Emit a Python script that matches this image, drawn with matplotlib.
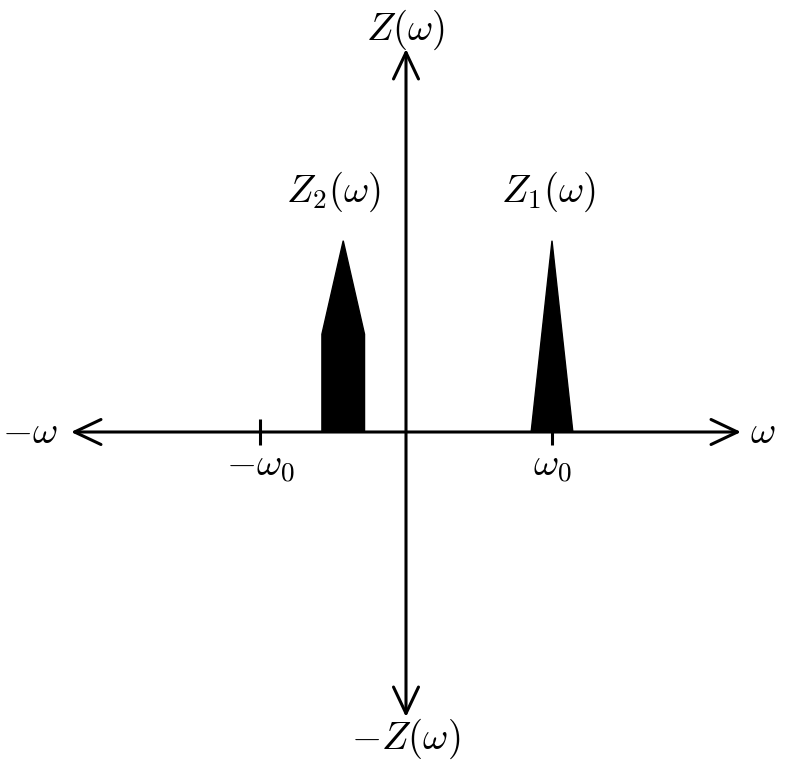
import numpy as np
import matplotlib.pyplot as plt
from matplotlib.patches import Polygon

plt.rcParams['mathtext.fontset'] = 'cm'

# everything in units of omega_0
w0 = 1.0
z1_center = 1.0
z1_halfwidth = 0.143
z1_peak = 1.31
z2_center = -0.43
z2_halfwidth = 0.146
z2_shoulder = 0.67
z2_peak = 1.31
tick_pos = [-w0, w0]
tick_labels = [r'$-\omega_0$', r'$\omega_0$']

# pixel layout -> data limits (origin at 406,432 px, w0 = 146 px)
W, H = 789, 761
ox, oy, unit = 406, 432, 146.0

fig = plt.figure(figsize=(W / 100, H / 100), dpi=100)
ax = fig.add_axes([0, 0, 1, 1])
ax.set_xlim(-ox / unit, (W - ox) / unit)
ax.set_ylim(-(H - oy) / unit, oy / unit)
ax.axis('off')

arrow = dict(arrowstyle='<->,head_length=0.95,head_width=0.45', lw=2.2,
             color='black', shrinkA=0, shrinkB=0, mutation_scale=20)
ax.annotate('', xy=((741 - ox) / unit, 0), xytext=((71 - ox) / unit, 0),
            arrowprops=arrow)
ax.annotate('', xy=(0, (oy - 49) / unit), xytext=(0, -(717 - oy) / unit),
            arrowprops=arrow)

# spectra
z1 = Polygon([(z1_center - z1_halfwidth, 0), (z1_center, z1_peak),
              (z1_center + z1_halfwidth, 0)], closed=True, color='black')
z2 = Polygon([(z2_center - z2_halfwidth, 0), (z2_center - z2_halfwidth, z2_shoulder),
              (z2_center, z2_peak), (z2_center + z2_halfwidth, z2_shoulder),
              (z2_center + z2_halfwidth, 0)], closed=True, color='black')
ax.add_patch(z1)
ax.add_patch(z2)

fs = 28
for p, lab in zip(tick_pos, tick_labels):
    ax.plot([p, p], [-0.092, 0.092], color='black', lw=2.2, solid_capstyle='butt')
    ax.text(p, -(466 - oy) / unit, lab, ha='center', va='center', fontsize=fs)

ax.text((763 - ox) / unit, 0, r'$\omega$', ha='center', va='center', fontsize=fs)
ax.text((30 - ox) / unit, 0, r'$-\omega$', ha='center', va='center', fontsize=fs)
ax.text(0, (oy - 30) / unit, r'$Z(\omega)$', ha='center', va='center', fontsize=fs)
ax.text(0, -(739 - oy) / unit, r'$-Z(\omega)$', ha='center', va='center', fontsize=fs)
ax.text((549 - ox) / unit, (oy - 192) / unit, r'$Z_1(\omega)$', ha='center', va='center', fontsize=fs)
ax.text((334 - ox) / unit, (oy - 192) / unit, r'$Z_2(\omega)$', ha='center', va='center', fontsize=fs)

fig.savefig('out.png', dpi=100)
